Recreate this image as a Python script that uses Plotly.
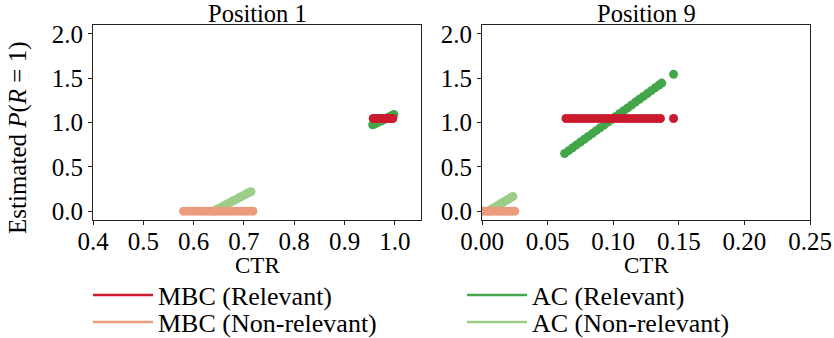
import plotly.graph_objects as go

# ---------------- data ----------------
# Position 1
p1_mbc_rel_x = [0.957, 0.960, 0.963, 0.966, 0.969, 0.972, 0.975, 0.978, 0.981, 0.984, 0.987, 0.990, 0.993, 0.996]
p1_mbc_rel_y = [1.045, 1.045, 1.045, 1.045, 1.045, 1.045, 1.045, 1.045, 1.045, 1.045, 1.045, 1.045, 1.045, 1.045]

p1_ac_rel_x = [0.956, 0.959, 0.962, 0.965, 0.968, 0.971, 0.974, 0.977, 0.980, 0.983, 0.986, 0.989, 0.992, 0.995, 0.998]
p1_ac_rel_y = [0.975, 0.983, 0.991, 0.999, 1.007, 1.015, 1.023, 1.031, 1.039, 1.047, 1.055, 1.063, 1.071, 1.079, 1.090]

p1_mbc_non_x = [0.580, 0.586, 0.592, 0.598, 0.604, 0.610, 0.616, 0.622, 0.628, 0.634, 0.640, 0.646,
                0.652, 0.658, 0.664, 0.670, 0.676, 0.682, 0.688, 0.694, 0.700, 0.706, 0.712, 0.718]
p1_mbc_non_y = [0.0, 0.0, 0.0, 0.0, 0.0, 0.0, 0.0, 0.0, 0.0, 0.0, 0.0, 0.0,
                0.0, 0.0, 0.0, 0.0, 0.0, 0.0, 0.0, 0.0, 0.0, 0.0, 0.0, 0.0]

p1_ac_non_x = [0.640, 0.645, 0.650, 0.655, 0.660, 0.665, 0.670, 0.675, 0.680, 0.685, 0.690, 0.695, 0.700, 0.705, 0.710, 0.714]
p1_ac_non_y = [0.000, 0.015, 0.030, 0.045, 0.060, 0.075, 0.090, 0.105, 0.120, 0.135, 0.150, 0.165, 0.180, 0.195, 0.210, 0.220]

# Position 9
p9_mbc_rel_x = [0.064, 0.067, 0.070, 0.073, 0.076, 0.079, 0.082, 0.085, 0.088, 0.091, 0.094, 0.097, 0.100,
                0.103, 0.106, 0.109, 0.112, 0.115, 0.118, 0.121, 0.124, 0.127, 0.130, 0.133, 0.136, 0.146]
p9_mbc_rel_y = [1.045, 1.045, 1.045, 1.045, 1.045, 1.045, 1.045, 1.045, 1.045, 1.045, 1.045, 1.045, 1.045,
                1.045, 1.045, 1.045, 1.045, 1.045, 1.045, 1.045, 1.045, 1.045, 1.045, 1.045, 1.045, 1.045]

p9_ac_rel_x = [0.063, 0.066, 0.069, 0.072, 0.075, 0.078, 0.081, 0.084, 0.087, 0.090, 0.093, 0.096, 0.099,
               0.102, 0.105, 0.108, 0.111, 0.114, 0.117, 0.120, 0.123, 0.126, 0.129, 0.132, 0.135, 0.137, 0.146]
p9_ac_rel_y = [0.650, 0.682, 0.714, 0.747, 0.779, 0.811, 0.843, 0.875, 0.908, 0.940, 0.972, 1.004, 1.036,
               1.069, 1.101, 1.133, 1.165, 1.198, 1.230, 1.262, 1.294, 1.326, 1.359, 1.391, 1.423, 1.445, 1.543]

p9_mbc_non_x = [0.001, 0.003, 0.005, 0.007, 0.009, 0.011, 0.013, 0.015, 0.017, 0.019, 0.021, 0.023, 0.025]
p9_mbc_non_y = [0.0, 0.0, 0.0, 0.0, 0.0, 0.0, 0.0, 0.0, 0.0, 0.0, 0.0, 0.0, 0.0]

p9_ac_non_x = [0.005, 0.0065, 0.008, 0.0095, 0.011, 0.0125, 0.014, 0.0155, 0.017, 0.0185, 0.020, 0.0215, 0.0235]
p9_ac_non_y = [0.000, 0.013, 0.027, 0.040, 0.054, 0.067, 0.080, 0.094, 0.107, 0.121, 0.134, 0.147, 0.165]

series_names = ["MBC (Relevant)", "AC (Relevant)", "MBC (Non-relevant)", "AC (Non-relevant)"]
subplot_titles = ["Position 1", "Position 9"]
y_ticks = [0.0, 0.5, 1.0, 1.5, 2.0]
x1_ticks = [0.4, 0.5, 0.6, 0.7, 0.8, 0.9, 1.0]
x9_ticks = [0.00, 0.05, 0.10, 0.15, 0.20, 0.25]

# ---------------- styling ----------------
C_MBC_REL = "#cb1a2e"
C_MBC_NON = "#ec9b7c"
C_AC_REL = "#43a64a"
C_AC_NON = "#9dcd87"
FONT = "Liberation Serif"
MS = 9

fig = go.Figure()

def add_scatter(x, y, color, xa, ya):
    fig.add_trace(go.Scatter(x=x, y=y, mode="markers", xaxis=xa, yaxis=ya,
                             marker=dict(size=MS, color=color, line=dict(width=0)),
                             showlegend=False, hoverinfo="skip"))

# draw AC first, MBC on top
add_scatter(p1_ac_non_x, p1_ac_non_y, C_AC_NON, "x", "y")
add_scatter(p1_ac_rel_x, p1_ac_rel_y, C_AC_REL, "x", "y")
add_scatter(p1_mbc_non_x, p1_mbc_non_y, C_MBC_NON, "x", "y")
add_scatter(p1_mbc_rel_x, p1_mbc_rel_y, C_MBC_REL, "x", "y")

add_scatter(p9_ac_non_x, p9_ac_non_y, C_AC_NON, "x2", "y2")
add_scatter(p9_ac_rel_x, p9_ac_rel_y, C_AC_REL, "x2", "y2")
add_scatter(p9_mbc_non_x, p9_mbc_non_y, C_MBC_NON, "x2", "y2")
add_scatter(p9_mbc_rel_x, p9_mbc_rel_y, C_MBC_REL, "x2", "y2")

# legend entries (lines): row 1 in "legend", row 2 in "legend2"
legend_colors = [C_MBC_REL, C_AC_REL, C_MBC_NON, C_AC_NON]
legend_ids = ["legend", "legend", "legend2", "legend2"]
for name, color, lg in zip(series_names, legend_colors, legend_ids):
    fig.add_trace(go.Scatter(x=[None], y=[None], mode="lines", name=name, legend=lg,
                             line=dict(color=color, width=2.5), xaxis="x", yaxis="y"))

W, H = 834, 338
ML, MR, MT, MB = 93, 24, 25, 118
PW = W - ML - MR
PH = H - MT - MB

def px_x(p):
    return (p - ML) / PW

def px_y(p):
    return (H - MB - p) / PH

axis_common = dict(showgrid=False, zeroline=False, showline=True, mirror=True,
                   linecolor="#222", linewidth=1, ticks="outside", ticklen=4,
                   tickcolor="#222", tickfont=dict(size=25, color="black", family=FONT))

legend_common = dict(orientation="h", xanchor="left", yanchor="middle",
                     entrywidth=299, entrywidthmode="pixels", itemwidth=60,
                     font=dict(size=26, family=FONT, color="black"),
                     bgcolor="rgba(0,0,0,0)", traceorder="normal")

fig.update_layout(
    width=W, height=H,
    margin=dict(l=ML, r=MR, t=MT, b=MB, autoexpand=False),
    paper_bgcolor="white", plot_bgcolor="white",
    font=dict(family=FONT, color="black", size=24),
    xaxis=dict(domain=[0, px_x(421)], range=[0.4, 1.052], tickvals=x1_ticks,
               tickformat=".1f", ticklabelstandoff=-5, **axis_common),
    yaxis=dict(domain=[0, 1], range=[-0.1, 2.1], tickvals=y_ticks, tickformat=".1f",
               anchor="x", **axis_common),
    xaxis2=dict(domain=[px_x(482), 1], range=[0, 0.25], tickvals=x9_ticks,
                tickformat=".2f", anchor="y2", ticklabelstandoff=-5, **axis_common),
    yaxis2=dict(domain=[0, 1], range=[-0.1, 2.1], tickvals=y_ticks, tickformat=".1f",
                anchor="x2", **axis_common),
    legend=dict(x=px_x(88), y=px_y(295), **legend_common),
    legend2=dict(x=px_x(88), y=px_y(322), **legend_common),
    showlegend=True,
)

annotations = [
    dict(text=subplot_titles[0], x=px_x((93 + 421) / 2), y=px_y(13), xref="paper", yref="paper",
         xanchor="center", yanchor="middle", showarrow=False, font=dict(size=24.5, family=FONT)),
    dict(text=subplot_titles[1], x=px_x((482 + 810) / 2), y=px_y(13), xref="paper", yref="paper",
         xanchor="center", yanchor="middle", showarrow=False, font=dict(size=24.5, family=FONT)),
    dict(text="CTR", x=px_x((93 + 421) / 2), y=px_y(265), xref="paper", yref="paper",
         xanchor="center", yanchor="middle", showarrow=False, font=dict(size=23, family=FONT)),
    dict(text="CTR", x=px_x((482 + 810) / 2), y=px_y(265), xref="paper", yref="paper",
         xanchor="center", yanchor="middle", showarrow=False, font=dict(size=23, family=FONT)),
    dict(text="Estimated <i>P</i>(<i>R</i> = 1)", x=px_x(18), y=px_y(138), xref="paper", yref="paper",
         xanchor="center", yanchor="middle", textangle=-90, showarrow=False,
         font=dict(size=25, family=FONT)),
]
fig.update_layout(annotations=annotations)

fig.write_html("out.html", config={"displayModeBar": False},
               post_script="document.body.style.margin='0';")
